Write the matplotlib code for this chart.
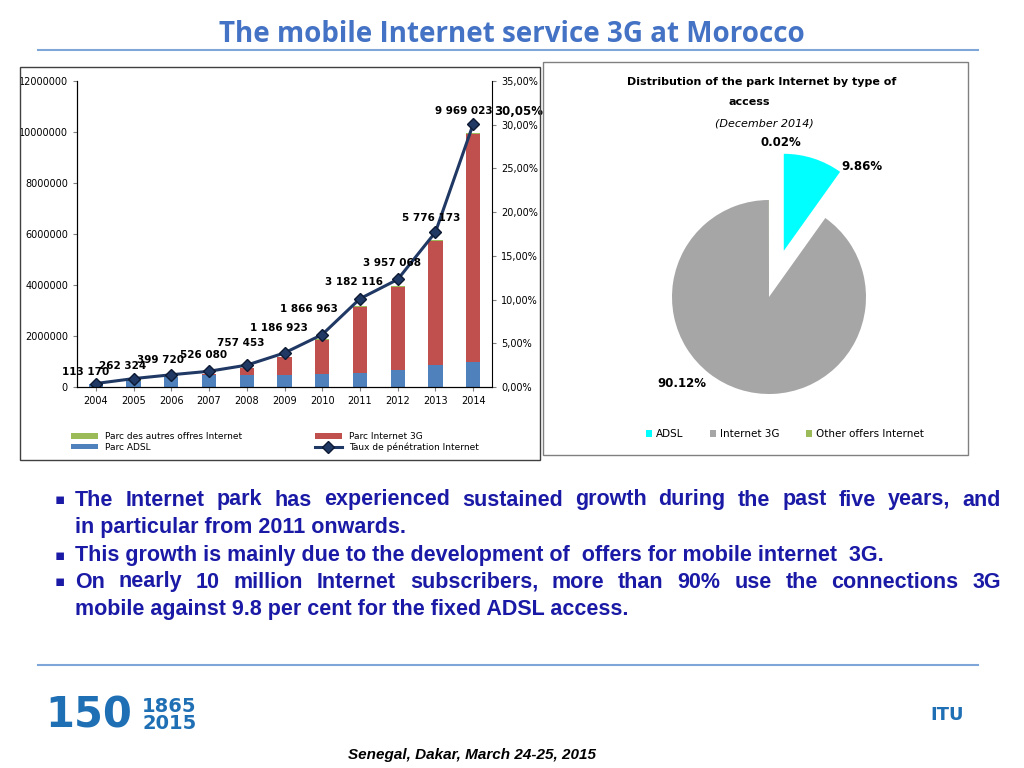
import matplotlib
matplotlib.use("Agg")
import matplotlib.pyplot as plt
import numpy as np
from matplotlib.patches import Rectangle

years = ["2004","2005","2006","2007","2008","2009","2010","2011","2012","2013","2014"]
totals = [113170, 262324, 399720, 526080, 757453, 1186923, 1866963, 3182116, 3957068, 5776173, 9969023]
adsl = [100000, 245000, 380000, 470000, 480000, 480000, 500000, 550000, 650000, 870000, 990000]
others = [8000, 12000, 15000, 20000, 20000, 25000, 25000, 30000, 30000, 35000, 40000]
g3 = [t - a - o for t, a, o in zip(totals, adsl, others)]
penetration = [0.4, 0.96, 1.4, 1.8, 2.5, 3.9, 6.0, 10.1, 12.3, 17.7, 30.05]
total_labels = ["113 170","262 324","399 720","526 080","757 453","1 186 923","1 866 963","3 182 116","3 957 068","5 776 173","9 969 023"]

pie_labels = ["ADSL", "Internet 3G", "Other offers Internet"]
pie_values = [9.86, 90.12, 0.02]

W, H = 1024, 768
fig = plt.figure(figsize=(W/100, H/100), dpi=100)
fig.patch.set_facecolor("white")

def fx(x): return x / W
def fy(y): return 1 - y / H

fig.text(fx(512), fy(34), "The mobile Internet service 3G at Morocco", ha="center", va="center",
         fontsize=20, color="#4472c4", fontweight="bold", family="Open Sans")
fig.add_artist(plt.Line2D([fx(38), fx(978)], [fy(50), fy(50)], color="#7fa6d8", lw=1.5))
fig.add_artist(plt.Line2D([fx(38), fx(978)], [fy(665), fy(665)], color="#7fa6d8", lw=1.5))

fig.add_artist(Rectangle((fx(20), fy(460)), fx(520), (460-67)/H, fill=False, ec="#404040", lw=1))
fig.add_artist(Rectangle((fx(543), fy(455)), fx(425), (455-62)/H, fill=False, ec="#808080", lw=1))

# bar chart
ax = fig.add_axes([fx(77), fy(387), fx(415), (387-81)/H])
x = np.arange(len(years))
c_adsl, c_3g, c_oth = "#4f81bd", "#c0504d", "#9bbb59"
ax.bar(x, adsl, 0.38, color=c_adsl, label="Parc ADSL")
ax.bar(x, g3, 0.38, bottom=adsl, color=c_3g, label="Parc Internet 3G")
ax.bar(x, others, 0.38, bottom=[a+g for a, g in zip(adsl, g3)], color=c_oth, label="Parc des autres offres Internet")
ax.set_ylim(0, 12000000)
ax.set_xlim(-0.5, len(years)-0.5)
ax.set_yticks(range(0, 12000001, 2000000))
ax.set_yticklabels([str(v) for v in range(0, 12000001, 2000000)], fontsize=7)
ax.set_xticks(x)
ax.set_xticklabels(years, fontsize=7)
ax.spines["top"].set_visible(False)
ax.spines["right"].set_visible(False)
ax.tick_params(length=3, color="#808080")
ax2 = ax.twinx()
ax2.plot(x, penetration, color="#1f3864", lw=2.2, marker="D", ms=6, mfc="#1f3864", mec="#0d1a33",
         label="Taux de pénétration Internet")
ax2.set_ylim(0, 35)
ax2.set_yticks(range(0, 36, 5))
ax2.set_yticklabels([f"{v},00%" for v in range(0, 36, 5)], fontsize=7)
ax2.spines["top"].set_visible(False)
ax2.tick_params(length=3, color="#808080")
offs = [(-0.28, 0.8), (-0.28, 0.9), (-0.28, 1.1), (-0.15, 1.3), (-0.15, 2.0), (-0.15, 2.3), (-0.35, 2.3), (-0.15, 1.3), (-0.15, 1.3), (-0.1, 1.1), (-0.25, 1.0)]
for i, (lab, p) in enumerate(zip(total_labels, penetration)):
    dx, dy = offs[i]
    ax2.text(i + dx, p + dy, lab, ha="center", va="bottom", fontsize=7.5, fontweight="bold")
ax2.text(len(years)-0.5+0.05, 31.5, "30,05%", ha="left", va="center", fontsize=8.5, fontweight="bold", clip_on=False)

h1, l1 = ax.get_legend_handles_labels()
h2, l2 = ax2.get_legend_handles_labels()
hd = dict(zip(l1 + l2, h1 + h2))
order = ["Parc des autres offres Internet", "Parc ADSL", "Parc Internet 3G", "Taux de pénétration Internet"]
fig.legend([hd[k] for k in order], order, loc="center", bbox_to_anchor=(fx(275), fy(442)), ncol=2,
           fontsize=6.5, frameon=False, columnspacing=8, handlelength=3, handleheight=0.6, labelspacing=0.2)

# pie: radius 97 px, centered at (769, 297)
R = 97
half = 130
pax = fig.add_axes([fx(769-half), fy(297+half), 2*half/W, 2*half/H])
pie_colors = ["#00ffff", "#a6a6a6", "#9bbb59"]
wedges, _ = pax.pie(pie_values, colors=pie_colors, startangle=90, counterclock=False,
                    explode=[0.5, 0, 0], radius=1.0)
pax.set_xlim(-half/R, half/R); pax.set_ylim(-half/R, half/R)
pax.set_aspect("auto")
fig.text(fx(762), fy(82), "Distribution of the park Internet by type of", ha="center", va="center", fontsize=8, fontweight="bold")
fig.text(fx(749), fy(102), "access", ha="center", va="center", fontsize=8, fontweight="bold")
fig.text(fx(764), fy(123), "(December 2014)", ha="center", va="center", fontsize=8, style="italic")
fig.text(fx(781), fy(142), "0.02%", ha="center", va="center", fontsize=8.5, fontweight="bold")
fig.text(fx(862), fy(167), "9.86%", ha="center", va="center", fontsize=8.5, fontweight="bold")
fig.text(fx(682), fy(383), "90.12%", ha="center", va="center", fontsize=8.5, fontweight="bold")
fig.legend(wedges, pie_labels, loc="center", bbox_to_anchor=(fx(785), fy(434)), ncol=3, fontsize=7.5,
           frameon=False, handlelength=0.6, handleheight=0.6, columnspacing=2.5, handletextpad=0.4)

# bullets
bullets = [
    (500, "The  Internet park has experienced sustained growth during the past five years, and", True),
    (527, "in particular from 2011 onwards.", False),
    (555, "This growth is mainly due to the development of  offers for mobile internet  3G.", False),
    (582, "On nearly 10 million Internet subscribers, more than 90% use the connections 3G", True),
    (609, "mobile against 9.8 per cent for the fixed ADSL access.", False),
]
fs = 15.5
renderer = fig.canvas.get_renderer()
x0, x1 = 75, 1001
for y, t, justify in bullets:
    kw = dict(ha="left", va="center", fontsize=fs, color="#1a1aa6", fontweight="bold", family="Liberation Sans")
    if not justify:
        fig.text(fx(x0), fy(y), t, **kw)
        continue
    words = t.split()
    arts = [fig.text(0, fy(y), w, **kw) for w in words]
    widths = [a.get_window_extent(renderer).width for a in arts]
    gap = (x1 - x0 - sum(widths)) / (len(words) - 1)
    pos = x0
    for a, w in zip(arts, widths):
        a.set_x(fx(pos))
        pos += w + gap
for y in [500, 555, 582]:
    fig.text(fx(55), fy(y), "\u25aa", ha="left", va="center", fontsize=11, color="#1a1aa6")

fig.text(fx(472), fy(755), "Senegal, Dakar, March 24-25, 2015", ha="center", va="center", fontsize=11,
         fontweight="bold", style="italic", family="Liberation Sans")
fig.text(fx(45), fy(715), "150", ha="left", va="center", fontsize=30, color="#1f6fb5", fontweight="bold")
fig.text(fx(142), fy(715), "1865\n2015", ha="left", va="center", fontsize=14, color="#1f6fb5",
         fontweight="bold", linespacing=0.9)
fig.text(fx(947), fy(715), "ITU", ha="center", va="center", fontsize=13, color="#1f6fb5", fontweight="bold")

fig.savefig("out.png", dpi=100)
